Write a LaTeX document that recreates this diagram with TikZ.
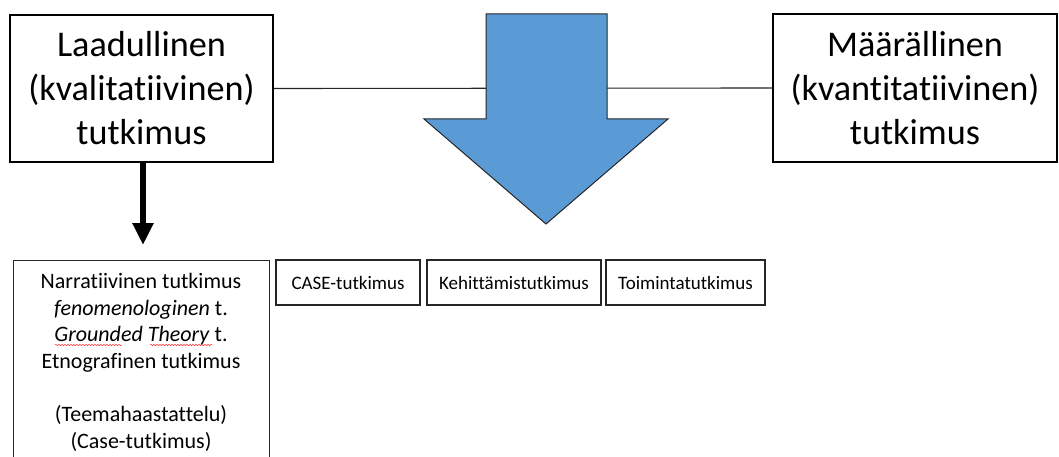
\documentclass[tikz,border=0pt]{standalone}
\usepackage{fontspec}
\setmainfont{Carlito}[Ligatures={NoCommon,NoContextual}]
\usetikzlibrary{arrows.meta,decorations.pathmorphing}
\definecolor{arrowblue}{HTML}{5B9BD5}
\definecolor{edgegray}{HTML}{262626}
\begin{document}
\begin{tikzpicture}[x=1pt,y=-1pt,
  mainbox/.style={draw=black, line width=2pt, align=center, inner sep=0pt,
    font=\fontsize{36.2}{44}\selectfont},
  methodbox/.style={draw=edgegray, line width=1.1pt, align=center, inner sep=0pt,
    minimum height=45pt, font=\fontsize{19}{24}\selectfont},
  listtext/.style={align=center, inner sep=0pt, font=\fontsize{22}{26.7}\selectfont},
  spellmark/.style={draw=red!80!white, line width=0.5pt,
    decorate, decoration={snake, segment length=3pt, amplitude=0.7pt}}]
\clip (0,0) rectangle (1059,457);
\fill[white] (0,0) rectangle (1059,457);

% the two research traditions
\node[mainbox, minimum width=263pt, minimum height=147pt] (qual) at (141.5,88.5)
  {Laadullinen\\(kvalitatiivinen)\\tutkimus};
\node[mainbox, minimum width=284pt, minimum height=148pt] (quant) at (915,88)
  {Määrällinen\\(kvantitatiivinen)\\tutkimus};

% line between them, passing behind the block arrow
\draw[edgegray, line width=1.1pt] (qual.east) -- (quant.west);

% block arrow pointing down to the mixed approaches
\filldraw[fill=arrowblue, draw=edgegray, line width=1pt]
  (486,14) -- (607,14) -- (607,119) -- (668,119) -- (546,224)
  -- (424,119) -- (486,119) -- cycle;

% list of qualitative approaches (box runs past the bottom edge)
\node[draw=edgegray, line width=1.1pt, minimum width=256pt, minimum height=230pt,
  anchor=north west, inner sep=0pt] (quallist) at (13,260) {};
\node[listtext, anchor=north] (qualtext) at (141,273)
  {Narratiivinen tutkimus\\
   \textit{fenomenologinen} t.\\
   \textit{Grounded Theory} t.\\
   Etnografinen tutkimus\\[26.7pt]
   (Teemahaastattelu)\\
   (Case-tutkimus)};
\coordinate (gA) at (55,345);
\coordinate (gB) at (122,345);
\coordinate (tA) at (150,345);
\coordinate (tB) at (212,345);
\draw[spellmark] (gA) -- (gB);
\draw[spellmark] (tA) -- (tB);

% thick arrow from the qualitative box to its list
\draw[black, line width=6pt, -{Triangle[width=20pt,length=22pt]}]
  (qual.south -| 143,0) -- ([yshift=15pt]quallist.north -| 143,0);

% other approaches
\node[methodbox, minimum width=144pt] (case) at (348,282.5) {CASE-tutkimus};
\node[methodbox, minimum width=174pt] (kehit) at (514,282.5) {Kehittämistutkimus};
\node[methodbox, minimum width=159pt] (toim) at (685.5,282.5) {Toimintatutkimus};
\end{tikzpicture}
\end{document}
